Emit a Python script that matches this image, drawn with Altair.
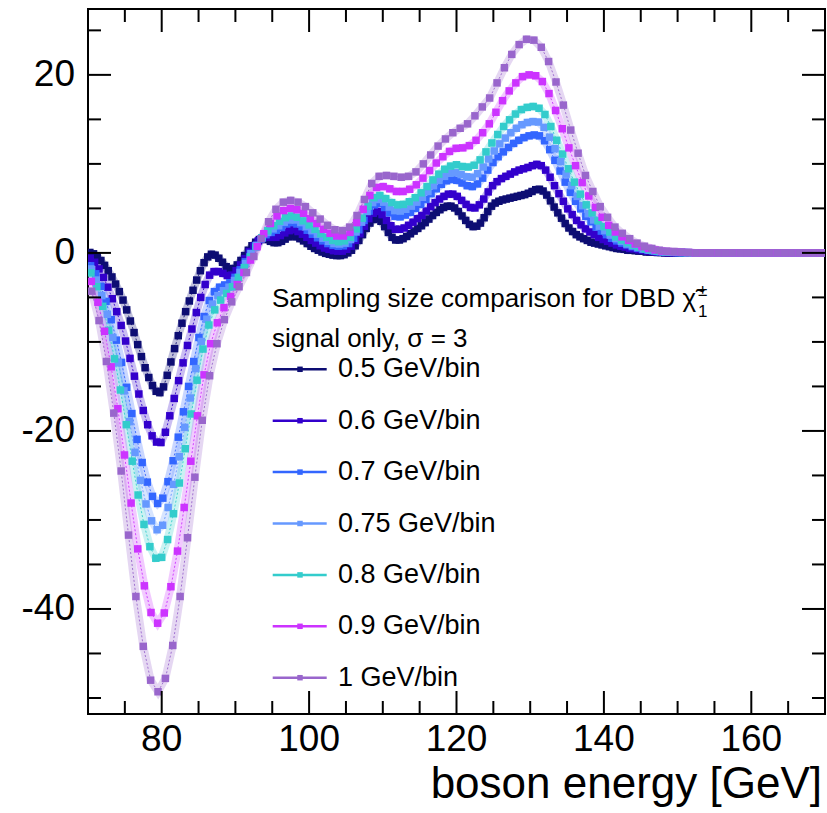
import altair as alt
import pandas as pd

# ---------------- data ----------------
series_labels = ["0.5 GeV/bin", "0.6 GeV/bin", "0.7 GeV/bin", "0.75 GeV/bin",
                 "0.8 GeV/bin", "0.9 GeV/bin", "1 GeV/bin"]
bin_widths = [0.5, 0.6, 0.7, 0.75, 0.8, 0.9, 1.0]
series_colors = ["#0d0d73", "#3300cc", "#3366ff", "#6699ff",
                 "#33cccc", "#cc33ff", "#9966cc"]
x_start = 70.0

y_050 = [0.05, -0.1, -0.4, -0.85, -1.4, -2.0, -2.7, -3.5, -4.35, -5.3,
         -6.4, -7.65, -8.95, -10.3, -11.65, -12.9, -14.0, -14.9, -15.55, -15.7,
         -15.05, -13.75, -12.25, -10.75, -9.3, -7.9, -6.6, -5.4, -4.2, -3.05,
         -2.0, -1.1, -0.45, -0.15, -0.25, -0.6, -1.05, -1.55, -1.85, -1.75,
         -1.35, -0.85, -0.3, 0.3, 0.8, 1.2, 1.5, 1.6, 1.5, 1.3,
         1.15, 1.15, 1.3, 1.55, 1.8, 1.9, 1.8, 1.6, 1.35, 1.05,
         0.75, 0.5, 0.3, 0.1, -0.05, -0.15, -0.25, -0.3, -0.3, -0.2,
         0.0, 0.3, 0.8, 1.4, 2.05, 2.75, 3.35, 3.75, 3.85, 3.55,
         2.95, 2.3, 1.75, 1.45, 1.45, 1.6, 1.85, 2.15, 2.45, 2.75,
         3.05, 3.4, 3.8, 4.2, 4.55, 4.85, 5.1, 5.25, 5.25, 5.05,
         4.65, 4.15, 3.65, 3.2, 2.95, 3.0, 3.35, 3.95, 4.65, 5.25,
         5.6, 5.8, 5.95, 6.05, 6.15, 6.25, 6.35, 6.45, 6.55, 6.7,
         6.9, 7.1, 7.15, 6.95, 6.5, 5.85, 5.15, 4.5, 3.9, 3.3,
         2.8, 2.4, 2.05, 1.8, 1.6, 1.4, 1.2, 1.1, 1.0, 0.9,
         0.8, 0.7, 0.6, 0.5, 0.45, 0.4, 0.3, 0.3, 0.25, 0.2,
         0.2, 0.1, 0.1, 0.1, 0.05, 0.05,
         0, 0, 0, 0, 0, 0, 0, 0, 0, 0,
         0, 0, 0, 0, 0, 0, 0, 0, 0, 0,
         0, 0, 0, 0, 0, 0, 0, 0, 0, 0,
         0, 0, 0, 0, 0, 0, 0, 0, 0, 0,
         0, 0, 0, 0]

y_060 = [-0.6, -1.05, -1.8, -2.75, -3.85, -5.15, -6.6, -8.15, -9.9, -11.85,
         -13.85, -15.85, -17.7, -19.3, -20.55, -21.25, -21.3, -20.15, -18.3, -16.35,
         -14.35, -12.35, -10.4, -8.55, -6.7, -5.0, -3.55, -2.5, -2.1, -2.1,
         -2.3, -2.55, -2.5, -2.0, -1.35, -0.65, 0.15, 0.75, 1.35, 1.65,
         1.75, 1.75, 1.75, 1.95, 2.25, 2.5, 2.6, 2.4, 2.1, 1.75,
         1.4, 1.1, 0.8, 0.55, 0.4, 0.25, 0.2, 0.2, 0.4, 0.75,
         1.4, 2.15, 3.0, 3.85, 4.45, 4.65, 4.3, 3.65, 3.05, 2.65,
         2.65, 2.8, 3.1, 3.45, 3.85, 4.2, 4.7, 5.2, 5.65, 6.05,
         6.35, 6.6, 6.6, 6.35, 5.9, 5.45, 5.1, 5.05, 5.4, 6.05,
         6.85, 7.55, 8.0, 8.35, 8.6, 8.85, 9.1, 9.3, 9.45, 9.6,
         9.8, 9.95, 9.8, 9.3, 8.5, 7.55, 6.65, 5.8, 4.95, 4.3,
         3.65, 3.15, 2.7, 2.35, 2.05, 1.75, 1.5, 1.3, 1.1, 0.9,
         0.75, 0.65, 0.5, 0.45, 0.35, 0.28, 0.2, 0.17, 0.1, 0.07,
         0.04, 0.03, 0.02, 0.02, 0.01, 0.0,
         0, 0, 0, 0, 0, 0, 0, 0, 0, 0,
         0, 0, 0, 0, 0, 0, 0, 0, 0, 0,
         0, 0, 0, 0, 0, 0, 0, 0, 0, 0,
         0]

y_070 = [-1.45, -2.35, -3.75, -5.45, -7.5, -9.8, -12.3, -15.1, -18.05, -20.95,
         -23.55, -25.75, -27.35, -28.15, -27.55, -25.7, -23.35, -20.7, -17.85, -15.0,
         -12.2, -9.5, -7.15, -5.35, -4.35, -3.85, -3.6, -3.35, -2.75, -1.9,
         -1.0, -0.05, 0.8, 1.55, 2.05, 2.3, 2.55, 2.85, 3.25, 3.4,
         3.25, 2.95, 2.55, 2.1, 1.7, 1.35, 1.05, 0.85, 0.75, 0.8,
         1.05, 1.65, 2.6, 3.65, 4.7, 5.4, 5.55, 5.1, 4.5, 4.1,
         4.05, 4.25, 4.55, 5.0, 5.45, 6.0, 6.65, 7.2, 7.7, 8.1,
         8.25, 8.15, 7.85, 7.55, 7.45, 7.75, 8.4, 9.3, 10.15, 10.8,
         11.35, 11.85, 12.3, 12.65, 12.95, 13.15, 13.25, 13.15, 12.6, 11.6,
         10.4, 9.2, 7.95, 6.8, 5.8, 4.95, 4.1, 3.5, 2.9, 2.45,
         2.05, 1.65, 1.35, 1.1, 0.9, 0.7, 0.55, 0.4, 0.3, 0.23,
         0.15, 0.1, 0.07, 0.05, 0.04, 0.03, 0.02,
         0, 0, 0, 0, 0, 0, 0, 0, 0, 0,
         0, 0, 0, 0, 0, 0, 0, 0, 0, 0,
         0, 0, 0, 0, 0, 0]

y_075 = [-1.8, -3.05, -4.8, -6.9, -9.5, -12.35, -15.5, -18.95, -22.4, -25.55,
         -28.2, -30.1, -31.1, -30.6, -28.6, -26.0, -22.9, -19.6, -16.3, -13.0,
         -9.95, -7.45, -5.75, -4.8, -4.25, -3.85, -3.1, -2.2, -1.2, -0.1,
         0.85, 1.7, 2.3, 2.7, 3.05, 3.45, 3.7, 3.7, 3.4, 2.95,
         2.5, 2.1, 1.65, 1.3, 1.05, 1.0, 1.1, 1.5, 2.35, 3.45,
         4.65, 5.65, 6.0, 5.7, 5.15, 4.75, 4.7, 4.9, 5.25, 5.7,
         6.25, 6.9, 7.55, 8.15, 8.6, 8.95, 9.0, 8.8, 8.55, 8.5,
         8.9, 9.65, 10.55, 11.45, 12.25, 12.9, 13.5, 14.0, 14.4, 14.65,
         14.75, 14.7, 14.1, 13.0, 11.7, 10.25, 8.85, 7.55, 6.35, 5.3,
         4.4, 3.7, 3.0, 2.5, 2.0, 1.6, 1.3, 1.0, 0.8, 0.6,
         0.45, 0.32, 0.23, 0.15, 0.1, 0.07, 0.05, 0.04, 0.02,
         0, 0, 0, 0, 0, 0, 0, 0, 0, 0,
         0, 0, 0, 0, 0, 0, 0, 0, 0, 0,
         0, 0, 0, 0]

y_080 = [-2.25, -3.8, -6.0, -8.7, -11.9, -15.4, -19.3, -23.4, -27.2, -30.5,
         -33.0, -34.3, -34.2, -32.2, -29.3, -25.85, -22.0, -18.1, -14.3, -10.8,
         -8.1, -6.4, -5.3, -4.55, -3.8, -2.75, -1.65, -0.45, 0.65, 1.7,
         2.5, 3.05, 3.55, 3.95, 4.15, 4.0, 3.6, 3.15, 2.65, 2.15,
         1.75, 1.4, 1.25, 1.35, 1.75, 2.7, 3.9, 5.25, 6.2, 6.45,
         6.1, 5.65, 5.4, 5.45, 5.75, 6.2, 6.75, 7.45, 8.2, 8.85,
         9.4, 9.75, 9.9, 9.7, 9.65, 9.85, 10.45, 11.35, 12.35, 13.3,
         14.2, 14.95, 15.6, 16.1, 16.35, 16.45, 16.25, 15.55, 14.2, 12.65,
         11.1, 9.45, 7.95, 6.6, 5.4, 4.5, 3.6, 2.95, 2.35, 1.8,
         1.45, 1.15, 0.85, 0.65, 0.45, 0.34, 0.22, 0.14, 0.1, 0.08,
         0.05, 0.03,
         0, 0, 0, 0, 0, 0, 0, 0, 0, 0,
         0, 0, 0, 0, 0, 0, 0, 0, 0, 0,
         0, 0, 0]

y_090 = [-3.2, -5.55, -8.8, -12.8, -17.5, -22.7, -28.1, -33.25, -37.4, -40.4,
         -41.6, -40.45, -37.5, -33.5, -28.6, -23.4, -18.3, -13.7, -10.2, -7.85,
         -6.15, -4.9, -3.55, -2.2, -0.8, 0.7, 2.15, 3.3, 4.15, 4.75,
         5.0, 4.85, 4.45, 3.85, 3.3, 2.65, 2.2, 1.9, 1.9, 2.3,
         3.4, 4.9, 6.45, 7.35, 7.45, 7.2, 6.9, 6.9, 7.15, 7.65,
         8.4, 9.25, 10.1, 10.8, 11.4, 11.75, 11.8, 12.05, 12.65, 13.5,
         14.5, 15.8, 17.1, 18.2, 19.1, 19.8, 20.0, 19.9, 19.25, 17.9,
         16.0, 13.95, 11.8, 9.8, 7.9, 6.4, 5.1, 4.0, 3.1, 2.35,
         1.8, 1.4, 1.0, 0.7, 0.5, 0.33, 0.2, 0.15, 0.12, 0.08,
         0.04,
         0, 0, 0, 0, 0, 0, 0, 0, 0, 0,
         0, 0, 0, 0, 0, 0, 0, 0, 0, 0]

y_100 = [-4.3, -7.6, -12.2, -18.0, -24.5, -31.7, -38.6, -44.2, -48.0, -49.3,
         -47.8, -44.1, -38.6, -32.0, -25.2, -18.8, -13.8, -10.2, -7.5, -5.5,
         -3.8, -2.2, -0.4, 1.6, 3.5, 4.9, 5.7, 5.9, 5.7, 5.2,
         4.5, 3.8, 3.1, 2.6, 2.5, 2.9, 4.2, 6.0, 7.8, 8.6,
         8.7, 8.6, 8.5, 8.6, 9.1, 10.0, 11.0, 12.0, 12.8, 13.5,
         14.0, 14.5, 15.4, 16.4, 17.4, 19.1, 20.8, 22.3, 23.4, 24.0,
         23.9, 23.1, 21.5, 19.2, 16.6, 13.8, 11.2, 8.7, 6.9, 5.2,
         4.0, 2.9, 2.2, 1.6, 1.1, 0.75, 0.5, 0.3, 0.2, 0.15,
         0.1, 0.05,
         0, 0, 0, 0, 0, 0, 0, 0, 0, 0,
         0, 0, 0, 0, 0, 0, 0, 0]

series_values = [y_050, y_060, y_070, y_075, y_080, y_090, y_100]

x_major = [80, 100, 120, 140, 160]
x_minor = [75, 85, 90, 95, 105, 110, 115, 125, 130, 135, 145, 150, 155, 165]
y_major = [-40, -20, 0, 20]
y_minor = [-50, -45, -35, -30, -25, -15, -10, -5, 5, 10, 15, 25]

legend_header = ["Sampling size comparison for DBD \u03c7\u0303", "signal only, \u03c3 = 3"]
header_sup = "\u00b1"
header_sub = "1"
x_title = "boson energy [GeV]"

# ---------------- layout ----------------
X_DOMAIN = [70, 170]
Y_DOMAIN = [-51.8, 27.4]
W, H = 737, 705
PAD = {"left": 88, "top": 9, "right": 2, "bottom": 99}
FONT = "Liberation Sans, Arial, Helvetica, sans-serif"


def px_x(px):
    return X_DOMAIN[0] + (px - PAD["left"]) / W * (X_DOMAIN[1] - X_DOMAIN[0])


def px_y(py):
    return Y_DOMAIN[1] - (py - PAD["top"]) / H * (Y_DOMAIN[1] - Y_DOMAIN[0])


rows = []
for lab, w, vals in zip(series_labels, bin_widths, series_values):
    for i, v in enumerate(vals):
        rows.append({"series": lab, "x": x_start + w / 2 + w * i, "y": v})
df = pd.DataFrame(rows)

xs = alt.Scale(domain=X_DOMAIN, nice=False, zero=False)
ys = alt.Scale(domain=Y_DOMAIN, nice=False, zero=False)
col = alt.Color("series:N", scale=alt.Scale(domain=series_labels, range=series_colors),
                legend=None)


def X(f):
    return alt.X(f, scale=xs, axis=None)


def Y(f):
    return alt.Y(f, scale=ys, axis=None)


base = alt.Chart(df)
halo = base.mark_line(strokeWidth=8, opacity=0.26, clip=True).encode(
    x=X("x:Q"), y=Y("y:Q"), color=col)
thin = base.mark_line(strokeWidth=1, strokeDash=[2, 2], opacity=0.9, clip=True).encode(
    x=X("x:Q"), y=Y("y:Q"), color=col)
pts = base.mark_point(shape="square", filled=True, size=56, opacity=1, clip=True).encode(
    x=X("x:Q"), y=Y("y:Q"), color=col)


def hticks(vals, a, b):
    return alt.Chart(pd.DataFrame({"v": vals})).mark_rule(color="black", strokeWidth=2).encode(
        y=Y("v:Q"), x=alt.value(a), x2=alt.value(b))


def vticks(vals, a, b):
    return alt.Chart(pd.DataFrame({"v": vals})).mark_rule(color="black", strokeWidth=2).encode(
        x=X("v:Q"), y=alt.value(a), y2=alt.value(b))


ticks = [
    hticks(y_major, 0, 23), hticks(y_minor, 0, 13),
    hticks(y_major, W, W - 23), hticks(y_minor, W, W - 13),
    vticks(x_major, H, H - 23), vticks(x_minor, H, H - 13),
    vticks(x_major, 0, 23), vticks(x_minor, 0, 13),
]

# tick labels and axis title as text
ylab_df = pd.DataFrame({"v": y_major, "lab": [str(v) for v in y_major]})
ylabs = alt.Chart(ylab_df).mark_text(align="right", baseline="middle", fontSize=37,
                                     font=FONT, color="black").encode(
    y=Y("v:Q"), x=alt.value(-13), text="lab:N")
xlab_df = pd.DataFrame({"v": x_major, "lab": [str(v) for v in x_major]})
xlabs = alt.Chart(xlab_df).mark_text(align="center", baseline="alphabetic", fontSize=37,
                                     font=FONT, color="black").encode(
    x=X("v:Q"), y=alt.value(H + 37), text="lab:N")
xtitle = alt.Chart(pd.DataFrame({"t": [x_title]})).mark_text(
    align="right", baseline="alphabetic", fontSize=44, font=FONT, color="black").encode(
    x=alt.value(W - 3), y=alt.value(H + 84), text="t:N")

# legend (built from the labels / colours)
leg = pd.DataFrame({"series": series_labels,
                    "ry": [px_y(369.3 + 51.4 * i) for i in range(len(series_labels))]})
leg["x1"] = px_x(272.7)
leg["x2"] = px_x(326.7)
leg["xm"] = px_x(300)
leg["tx"] = px_x(338)
lb = alt.Chart(leg)
leg_line = lb.mark_rule(strokeWidth=2.5).encode(
    x=X("x1:Q"), x2="x2:Q", y=Y("ry:Q"), color=col)
leg_pt = lb.mark_point(shape="square", filled=True, size=30, opacity=1).encode(
    x=X("xm:Q"), y=Y("ry:Q"), color=col)
leg_txt = lb.mark_text(align="left", baseline="middle", fontSize=27, font=FONT,
                       color="black").encode(x=X("tx:Q"), y=Y("ry:Q"), text="series:N")

hdr = pd.DataFrame({"t": legend_header, "hx": [px_x(272)] * 2,
                    "hy": [px_y(306.7), px_y(347)]})
hdr_txt = alt.Chart(hdr).mark_text(align="left", baseline="alphabetic", fontSize=26,
                                   font=FONT, color="black").encode(
    x=X("hx:Q"), y=Y("hy:Q"), text="t:N")

sup = pd.DataFrame({"t": [header_sup, header_sub], "hx": [px_x(698)] * 2,
                    "hy": [px_y(296), px_y(317)]})
sup_txt = alt.Chart(sup).mark_text(align="left", baseline="alphabetic", fontSize=17,
                                   font=FONT, color="black").encode(
    x=X("hx:Q"), y=Y("hy:Q"), text="t:N")

chart = alt.layer(halo, thin, pts, *ticks, ylabs, xlabs, xtitle,
                  leg_line, leg_pt, leg_txt, hdr_txt, sup_txt).properties(
    width=W, height=H, padding=PAD,
    autosize=alt.AutoSizeParams(type="none"),
    background="white",
).configure_view(stroke="black", strokeWidth=2)

chart.save("out.html", embed_options={"renderer": "svg", "actions": False})
